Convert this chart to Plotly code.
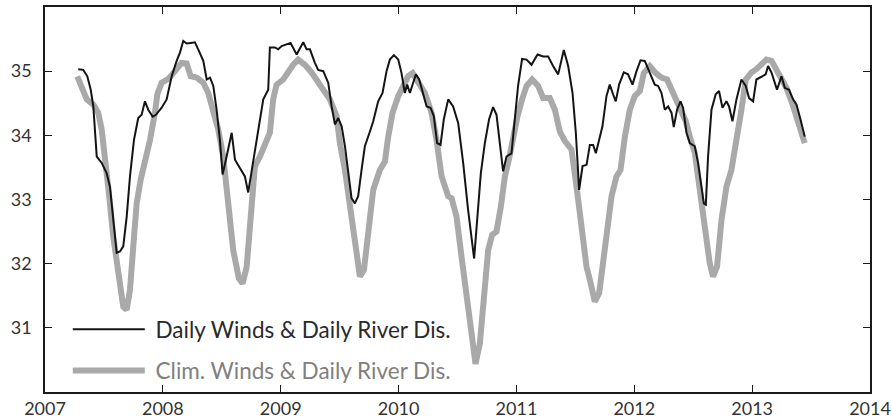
import plotly.graph_objects as go

# Decimal-year time axis
daily_x = [2007.282, 2007.325, 2007.359, 2007.388, 2007.410, 2007.439, 2007.481, 2007.523, 2007.551, 2007.579,
           2007.608, 2007.636, 2007.664, 2007.693, 2007.721, 2007.755, 2007.791, 2007.820, 2007.848, 2007.876,
           2007.914, 2007.941, 2007.990, 2008.032, 2008.075, 2008.117, 2008.145, 2008.173, 2008.202, 2008.236,
           2008.272, 2008.300, 2008.343, 2008.372, 2008.400, 2008.428, 2008.456, 2008.484, 2008.507, 2008.541,
           2008.584, 2008.612, 2008.654, 2008.696, 2008.724, 2008.767, 2008.809, 2008.852, 2008.894, 2008.908,
           2008.951, 2008.979, 2009.008, 2009.050, 2009.084, 2009.135, 2009.191, 2009.220, 2009.248, 2009.290,
           2009.318, 2009.361, 2009.403, 2009.432, 2009.460, 2009.488, 2009.517, 2009.545, 2009.573, 2009.601,
           2009.629, 2009.657, 2009.686, 2009.714, 2009.757, 2009.785, 2009.827, 2009.864, 2009.898, 2009.926,
           2009.960, 2009.997, 2010.025, 2010.053, 2010.073, 2010.096, 2010.124, 2010.147, 2010.175, 2010.209,
           2010.238, 2010.271, 2010.299, 2010.327, 2010.356, 2010.384, 2010.421, 2010.463, 2010.506, 2010.548,
           2010.590, 2010.641, 2010.675, 2010.698, 2010.732, 2010.768, 2010.802, 2010.831, 2010.859, 2010.887,
           2010.916, 2010.958, 2010.986, 2011.014, 2011.048, 2011.086, 2011.128, 2011.179, 2011.227, 2011.269,
           2011.311, 2011.354, 2011.402, 2011.439, 2011.476, 2011.504, 2011.532, 2011.561, 2011.595, 2011.623,
           2011.651, 2011.674, 2011.702, 2011.730, 2011.764, 2011.792, 2011.820, 2011.843, 2011.871, 2011.911,
           2011.947, 2011.985, 2012.019, 2012.053, 2012.089, 2012.132, 2012.174, 2012.202, 2012.231, 2012.259,
           2012.287, 2012.316, 2012.335, 2012.363, 2012.392, 2012.414, 2012.443, 2012.471, 2012.513, 2012.541,
           2012.570, 2012.590, 2012.607, 2012.626, 2012.655, 2012.691, 2012.719, 2012.748, 2012.782, 2012.804,
           2012.833, 2012.867, 2012.909, 2012.946, 2012.974, 2013.008, 2013.036, 2013.079, 2013.115, 2013.135,
           2013.164, 2013.211, 2013.249, 2013.277, 2013.313, 2013.347, 2013.376, 2013.410, 2013.446]
daily_y = [35.03, 35.02, 34.92, 34.71, 34.45, 33.67, 33.57, 33.41, 33.20, 32.73,
           32.17, 32.19, 32.27, 32.73, 33.36, 33.93, 34.27, 34.32, 34.53, 34.40,
           34.29, 34.32, 34.43, 34.56, 34.92, 35.16, 35.29, 35.47, 35.43, 35.44,
           35.45, 35.34, 35.16, 34.87, 34.90, 34.77, 34.40, 33.93, 33.39, 33.67,
           34.04, 33.62, 33.49, 33.36, 33.11, 33.62, 34.09, 34.56, 34.71, 35.37,
           35.37, 35.34, 35.39, 35.42, 35.44, 35.26, 35.45, 35.34, 35.34, 35.13,
           35.02, 35.00, 34.82, 34.45, 34.17, 34.27, 34.14, 33.83, 33.46, 33.02,
           32.94, 33.05, 33.46, 33.83, 34.06, 34.22, 34.53, 34.66, 35.00, 35.18,
           35.25, 35.18, 34.97, 34.66, 34.79, 34.66, 34.82, 34.95, 34.87, 34.64,
           34.45, 34.43, 34.30, 33.88, 33.85, 34.25, 34.56, 34.45, 34.19, 33.57,
           32.84, 32.08, 32.89, 33.41, 33.88, 34.25, 34.44, 34.32, 33.88, 33.44,
           33.67, 33.72, 34.25, 34.77, 35.19, 35.18, 35.10, 35.26, 35.23, 35.23,
           35.08, 34.95, 35.33, 35.08, 34.66, 34.04, 33.15, 33.52, 33.54, 33.85,
           33.85, 33.72, 33.93, 34.14, 34.61, 34.79, 34.64, 34.53, 34.79, 34.98,
           34.95, 34.79, 35.00, 35.17, 35.16, 34.98, 34.79, 34.77, 34.66, 34.40,
           34.45, 34.35, 34.13, 34.40, 34.53, 34.43, 34.04, 33.88, 33.83, 33.57,
           33.23, 32.94, 32.92, 33.67, 34.40, 34.64, 34.69, 34.43, 34.53, 34.45,
           34.22, 34.56, 34.87, 34.77, 34.58, 34.53, 34.87, 34.92, 34.95, 35.08,
           34.98, 34.71, 34.92, 34.74, 34.71, 34.56, 34.48, 34.25, 33.98]

clim_x = [2007.274, 2007.311, 2007.354, 2007.410, 2007.452, 2007.481, 2007.509, 2007.545, 2007.579, 2007.622,
          2007.664, 2007.693, 2007.721, 2007.749, 2007.778, 2007.812, 2007.848, 2007.891, 2007.933, 2007.953,
          2007.990, 2008.046, 2008.103, 2008.159, 2008.202, 2008.236, 2008.287, 2008.343, 2008.385, 2008.428,
          2008.470, 2008.512, 2008.555, 2008.597, 2008.645, 2008.677, 2008.711, 2008.745, 2008.781, 2008.824,
          2008.866, 2008.908, 2008.936, 2008.965, 2009.021, 2009.064, 2009.106, 2009.148, 2009.205, 2009.262,
          2009.318, 2009.375, 2009.417, 2009.474, 2009.502, 2009.545, 2009.587, 2009.629, 2009.672, 2009.706,
          2009.742, 2009.785, 2009.841, 2009.884, 2009.912, 2009.949, 2009.997, 2010.039, 2010.081, 2010.119,
          2010.166, 2010.223, 2010.280, 2010.322, 2010.365, 2010.421, 2010.450, 2010.492, 2010.534, 2010.577,
          2010.619, 2010.653, 2010.690, 2010.726, 2010.760, 2010.794, 2010.831, 2010.868, 2010.902, 2010.936,
          2010.972, 2011.009, 2011.048, 2011.086, 2011.133, 2011.184, 2011.227, 2011.283, 2011.326, 2011.368,
          2011.411, 2011.467, 2011.510, 2011.552, 2011.595, 2011.623, 2011.665, 2011.702, 2011.735, 2011.769,
          2011.807, 2011.849, 2011.883, 2011.920, 2011.962, 2012.004, 2012.047, 2012.081, 2012.132, 2012.182,
          2012.231, 2012.278, 2012.316, 2012.358, 2012.400, 2012.437, 2012.471, 2012.513, 2012.556, 2012.598,
          2012.640, 2012.668, 2012.702, 2012.740, 2012.782, 2012.824, 2012.867, 2012.909, 2012.946, 2012.994,
          2013.036, 2013.079, 2013.121, 2013.164, 2013.206, 2013.249, 2013.291, 2013.347, 2013.404, 2013.446]
clim_y = [34.92, 34.74, 34.56, 34.48, 34.35, 34.09, 33.67, 33.05, 32.42, 31.80,
          31.33, 31.28, 31.59, 32.27, 32.94, 33.31, 33.57, 33.93, 34.35, 34.64,
          34.82, 34.88, 35.00, 35.13, 35.12, 34.92, 34.90, 34.82, 34.66, 34.40,
          34.09, 33.67, 33.00, 32.21, 31.77, 31.69, 31.95, 32.73, 33.52, 33.67,
          33.88, 34.04, 34.56, 34.79, 34.87, 35.00, 35.10, 35.18, 35.10, 34.98,
          34.82, 34.64, 34.56, 34.30, 33.88, 33.46, 32.89, 32.32, 31.80, 31.90,
          32.53, 33.15, 33.46, 33.59, 33.98, 34.35, 34.61, 34.77, 34.92, 34.97,
          34.84, 34.66, 34.35, 33.93, 33.36, 33.05, 33.02, 32.73, 32.11, 31.48,
          30.81, 30.44, 30.76, 31.54, 32.21, 32.45, 32.50, 32.89, 33.36, 33.62,
          33.98, 34.30, 34.56, 34.77, 34.87, 34.77, 34.58, 34.58, 34.40, 34.06,
          33.91, 33.78, 33.20, 32.58, 31.95, 31.75, 31.41, 31.54, 32.06, 32.63,
          33.05, 33.36, 33.46, 33.98, 34.40, 34.61, 34.69, 34.97, 35.08, 34.97,
          34.90, 34.87, 34.71, 34.56, 34.40, 34.22, 33.98, 33.73, 33.15, 32.53,
          32.01, 31.80, 31.95, 32.68, 33.20, 33.46, 33.88, 34.40, 34.87, 34.98,
          35.03, 35.10, 35.18, 35.16, 35.03, 34.87, 34.74, 34.46, 34.09, 33.88]

x_ticks = [2007, 2008, 2009, 2010, 2011, 2012, 2013, 2014]
y_ticks = [31, 32, 33, 34, 35]

name_daily = "Daily Winds & Daily River Dis."
name_clim = "Clim. Winds & Daily River Dis."

FONT = "Lato"
PAD = "\u00a0"

fig = go.Figure()
fig.add_trace(go.Scatter(
    x=clim_x, y=clim_y, mode="lines", legendgroup="clim", legendrank=2,
    name=PAD + '<span style="color:#808080">' + name_clim + '</span>',
    line=dict(color="#a9a9a9", width=6),
))
fig.add_trace(go.Scatter(
    x=daily_x, y=daily_y, mode="lines", legendgroup="daily", legendrank=1,
    name=PAD + name_daily,
    line=dict(color="#141414", width=2),
))

axis_common = dict(
    showline=True, linecolor="#1a1a1a", linewidth=1.5, mirror="allticks",
    ticks="inside", ticklen=7, tickwidth=1, tickcolor="#1a1a1a",
    showgrid=False, zeroline=False, automargin=False,
    tickfont=dict(family=FONT, size=18, color="#333333"),
)

fig.update_layout(
    width=892, height=419,
    margin=dict(l=45, r=22, t=7, b=27),
    paper_bgcolor="white", plot_bgcolor="white",
    showlegend=True,
    legend=dict(
        x=0.0276, y=0.0, xanchor="left", yanchor="bottom",
        traceorder="grouped", tracegroupgap=9,
        itemwidth=72,
        bgcolor="rgba(0,0,0,0)", borderwidth=0,
        font=dict(family=FONT, size=22.5, color="#2a2a2a"),
    ),
    xaxis=dict(range=[2007, 2014], tickvals=x_ticks, ticktext=[str(v) for v in x_ticks], **axis_common),
    yaxis=dict(range=[30, 36], tickvals=y_ticks, ticklabelstandoff=8, **axis_common),
)

fig.write_html("out.html", config={"displayModeBar": False},
               post_script="document.body.style.margin='0px';")
